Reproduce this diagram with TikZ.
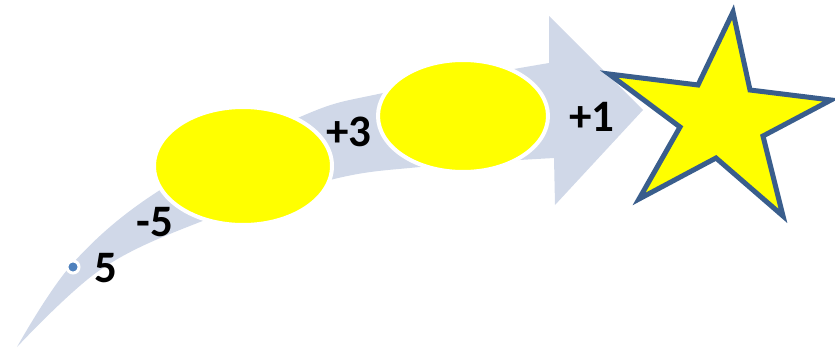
\documentclass[tikz,border=0pt]{standalone}
\usepackage{fontspec}
\setmainfont{Carlito}
\usetikzlibrary{shapes.geometric}
\definecolor{arrowfill}{HTML}{D0D8E8}
\definecolor{starline}{HTML}{3A5E8C}
\definecolor{dotblue}{HTML}{4F81BD}
\definecolor{sunyellow}{HTML}{FFFF00}
\tikzset{
  blob/.style={ellipse, fill=sunyellow, draw=white, line width=4pt, inner sep=0pt},
  lbl/.style={font=\bfseries\fontsize{45}{45}\selectfont, inner sep=0pt, text=black}
}
\begin{document}
\begin{tikzpicture}[x=1pt,y=-1pt]
\useasboundingbox (0,0) rectangle (835,348);
% curved arrow
\fill[arrowfill] plot[smooth, tension=0.6] coordinates {(17,347) (73,263) (160,190) (300,117) (383,93) (549,63)}
  -- (549,16) -- (643,110) -- (555,205) -- (554,158)
  -- plot[smooth, tension=0.6] coordinates {(554,158) (420,167) (330,180) (200,222) (100,270) (17,347)} -- cycle;
% ellipses
\node[blob, minimum width=178pt, minimum height=118pt] (e1) at (243,166) {};
\node[blob, minimum width=170pt, minimum height=112pt] (e2) at (463,116) {};
% dot
\node[circle, fill=dotblue, draw=white, line width=3pt, minimum size=12pt, inner sep=0pt] (dot) at (73,267) {};
% star
\draw[fill=sunyellow, draw=starline, line width=5pt, line join=miter]
  (733,12) -- (750,90) -- (831,100) -- (763,136) -- (783,216) -- (716,158)
  -- (639,199) -- (680,127) -- (609,74) -- (698,85) -- cycle;
% labels
\node[lbl] (l5) at (106,268) {5};
\node[lbl] (lm5) at (155,222) {-5};
\node[lbl] (l3) at (349,132) {+3};
\node[lbl] (l1) at (592,117) {+1};
\end{tikzpicture}
\end{document}
